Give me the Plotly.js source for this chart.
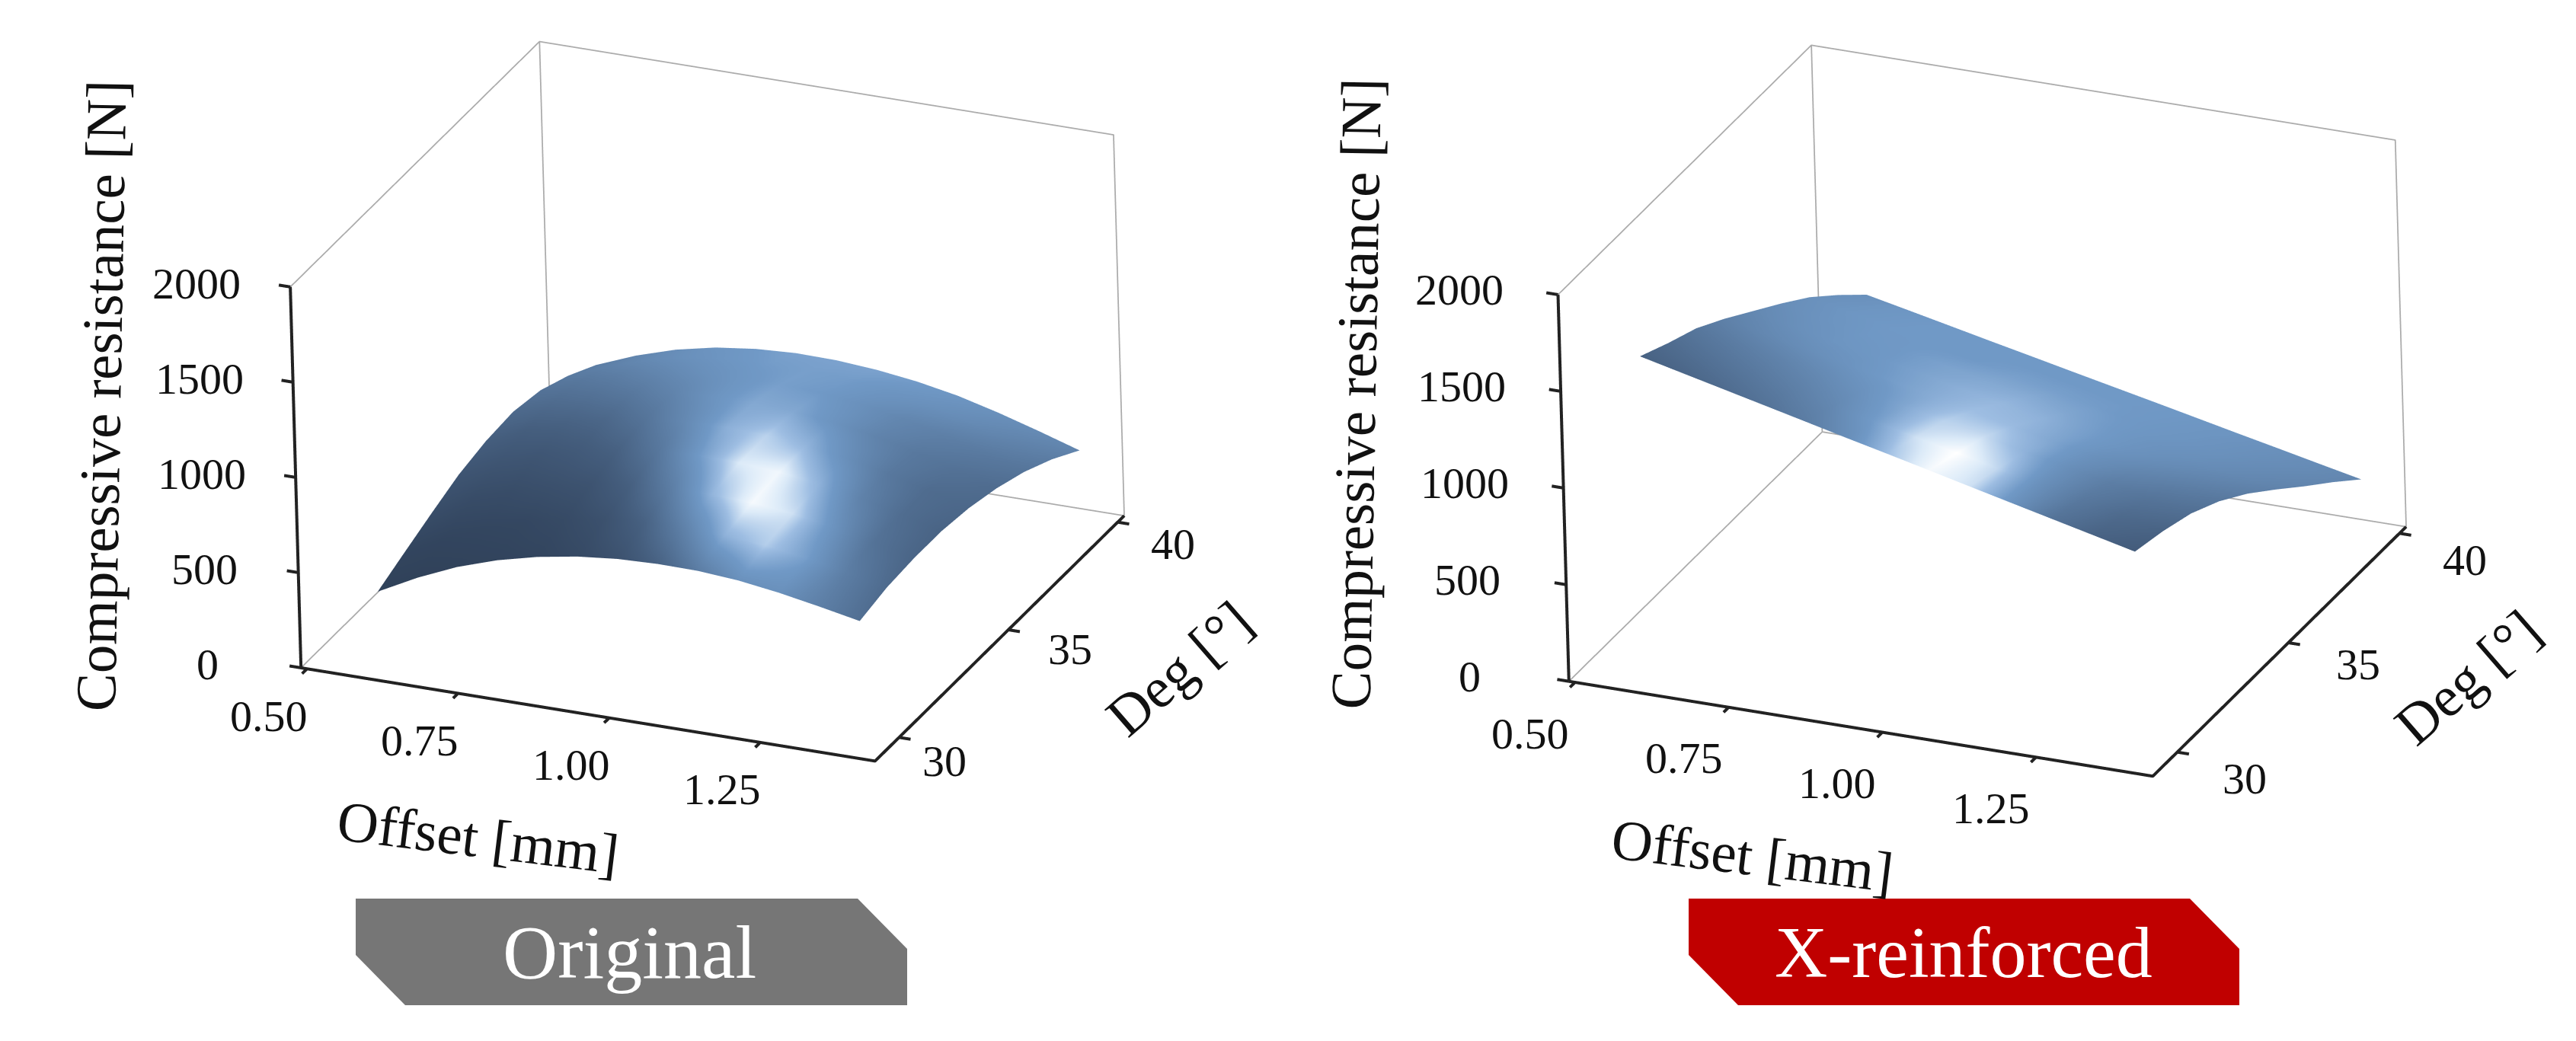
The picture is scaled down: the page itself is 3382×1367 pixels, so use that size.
<!DOCTYPE html>
<html>
<head>
<meta charset="utf-8">
<script src="https://cdn.plot.ly/plotly-3.0.1.min.js"></script>
<style>html,body{margin:0;padding:0;background:#fff}</style>
</head>
<body>
<div id="myDiv" style="width:3382px;height:1367px"></div>
<script>
// offset [mm] along x, deg along y
var offsetVals = [0.58, 0.647, 0.713, 0.78, 0.847, 0.913, 0.98, 1.047, 1.113, 1.18, 1.247, 1.313, 1.38];
var degVals = [30, 31.25, 32.5, 33.75, 35, 36.25, 37.5, 38.75, 40];

var originalZ = [
	[322, 430, 520, 590, 642, 678, 700, 708, 706, 690, 660, 622, 580],
	[388, 493, 581, 648, 698, 731, 750, 756, 751, 733, 700, 660, 615],
	[452, 553, 636, 700, 745, 774, 789, 790, 781, 759, 722, 677, 628],
	[512, 608, 686, 745, 785, 809, 819, 815, 801, 774, 732, 682, 628],
	[547, 639, 712, 766, 801, 821, 826, 818, 800, 767, 721, 666, 608],
	[560, 647, 717, 766, 797, 813, 814, 801, 779, 742, 691, 633, 570],
	[532, 617, 684, 731, 760, 773, 772, 758, 733, 694, 641, 580, 515],
	[467, 551, 618, 664, 692, 704, 702, 687, 661, 621, 567, 506, 440],
	[382, 466, 531, 577, 604, 616, 613, 597, 570, 530, 475, 413, 346]
];
var reinforcedZ = [
	[1603, 1553, 1504, 1454, 1404, 1354, 1305, 1255, 1205, 1155, 1105, 1056, 1006],
	[1530, 1483, 1437, 1390, 1343, 1297, 1250, 1203, 1157, 1110, 1063, 1017, 970],
	[1465, 1420, 1374, 1329, 1283, 1238, 1193, 1147, 1102, 1056, 1011, 965, 920],
	[1373, 1328, 1283, 1239, 1194, 1149, 1104, 1059, 1014, 970, 930, 886, 842],
	[1271, 1226, 1181, 1136, 1091, 1046, 1001, 956, 911, 866, 826, 783, 740],
	[1169, 1123, 1077, 1030, 984, 938, 892, 846, 800, 753, 707, 664, 620],
	[1060, 1013, 966, 919, 872, 825, 778, 730, 683, 636, 589, 542, 495],
	[930, 884, 837, 791, 745, 699, 653, 606, 560, 514, 468, 421, 375],
	[790, 745, 700, 654, 609, 564, 519, 474, 429, 383, 338, 293, 248]
];

// surface tone, 0 dark navy, 1 white
var originalTone = [
	[.05, .05, .06, .07, .08, .12, .19, .33, .52, .66, .66, .54, .42],
	[.08, .08, .09, .10, .13, .19, .33, .56, .80, .87, .74, .53, .39],
	[.15, .14, .15, .18, .21, .32, .53, .81, .98, .91, .68, .45, .35],
	[.22, .22, .23, .27, .33, .48, .72, .93, .97, .80, .56, .41, .34],
	[.30, .30, .33, .37, .46, .61, .79, .88, .81, .65, .49, .40, .37],
	[.38, .40, .44, .49, .57, .68, .77, .77, .68, .57, .49, .44, .40],
	[.45, .48, .53, .59, .65, .70, .74, .72, .66, .59, .54, .50, .46],
	[.50, .55, .61, .66, .70, .73, .74, .73, .69, .66, .62, .57, .52],
	[.52, .58, .64, .69, .72, .75, .75, .75, .73, .70, .66, .62, .58]
];
var reinforcedTone = [
	[.33, .36, .40, .45, .52, .64, .84, .98, .91, .68, .45, .34, .28],
	[.40, .44, .48, .53, .60, .73, .91, 1.0, .89, .66, .49, .39, .34],
	[.48, .52, .56, .61, .67, .76, .88, .90, .80, .65, .53, .46, .42],
	[.55, .60, .64, .68, .73, .78, .84, .83, .76, .66, .59, .53, .48],
	[.60, .65, .69, .71, .75, .79, .82, .80, .74, .68, .63, .58, .53],
	[.64, .68, .71, .72, .75, .77, .78, .76, .72, .68, .65, .61, .56],
	[.66, .70, .72, .72, .72, .74, .74, .73, .71, .69, .66, .62, .58],
	[.66, .70, .72, .72, .72, .72, .72, .72, .71, .69, .66, .63, .59],
	[.66, .70, .72, .72, .72, .72, .72, .72, .71, .69, .66, .63, .59]
];

var offsetTicks = [0.5, 0.75, 1.0, 1.25];
var degTicks = [30, 35, 40];
var forceTicks = [0, 500, 1000, 1500, 2000];
var offsetLabels = ['0.50', '0.75', '1.00', '1.25'];

// box that is drawn
var offsetBox = [0.49, 1.44];
var degBox = [28.9, 40.3];
var forceBox = [0, 2000];
// axis range is a bit wider so lines on the box are not clipped and ticks fit
var offsetRange = [0.4615, 1.4685];
var degRange = [28.558, 40.642];
var forceRange = [-60, 2060];

var fontName = 'Liberation Serif';
var viewDir = [0.3744, -0.8256, 0.4222];
var upDir = [-0.1487, 0.3959, 0.9061];
var toneScale = [[0, '#2c3c53'], [0.3, '#455e7e'], [0.72, '#7099c6'], [0.84, '#9dbde2'], [0.93, '#dbeaf8'], [1, '#ffffff']];

function frameTrace(scene){
	var x0 = offsetBox[0], x1 = offsetBox[1];
	var y0 = degBox[0], y1 = degBox[1];
	var z0 = forceBox[0], z1 = forceBox[1];
	return {
		type: 'scatter3d', mode: 'lines', scene: scene,
		x: [x0, x0, x1, x1, null, x0, x0, null, x0, x0, null, x0, x1],
		y: [y0, y1, y1, y1, null, y0, y1, null, y1, y1, null, y1, y1],
		z: [z1, z1, z1, z0, null, z0, z0, null, z0, z1, null, z0, z0],
		line: {color: '#ababab', width: 3.5},
		hoverinfo: 'skip', showlegend: false
	};
}

function axisTrace(scene){
	var x0 = offsetBox[0], x1 = offsetBox[1];
	var y0 = degBox[0], y1 = degBox[1];
	var z0 = forceBox[0], z1 = forceBox[1];
	var xs = [x0, x0, x1, x1], ys = [y0, y0, y0, y1], zs = [z1, z0, z0, z0];
	var dx = (x1 - x0) * 0.02, dy = (y1 - y0) * 0.02;
	function seg(a, b){
		xs.push(null, a[0], b[0]);
		ys.push(null, a[1], b[1]);
		zs.push(null, a[2], b[2]);
	}
	offsetTicks.forEach(function(v){ seg([v, y0, z0], [v, y0 - dy, z0]); });
	degTicks.forEach(function(v){ seg([x1, v, z0], [x1 + dx, v, z0]); });
	forceTicks.forEach(function(v){ seg([x0, y0, v], [x0 - dx, y0, v]); });
	return {
		type: 'scatter3d', mode: 'lines', scene: scene,
		x: xs, y: ys, z: zs,
		line: {color: '#222', width: 8},
		hoverinfo: 'skip', showlegend: false
	};
}

function surfaceTrace(z, tone, scene){
	return {
		type: 'surface', scene: scene,
		x: offsetVals, y: degVals, z: z,
		surfacecolor: tone, cmin: 0, cmax: 1,
		colorscale: toneScale,
		showscale: false,
		lighting: {ambient: 1, diffuse: 0, specular: 0, roughness: 1, fresnel: 0},
		hoverinfo: 'skip'
	};
}

function axisStyle(range){
	return {
		title: {text: ''},
		range: range,
		showticklabels: false,
		ticks: '',
		showline: false,
		showgrid: false, zeroline: false, showbackground: false, showspikes: false
	};
}

// tick labels and axis titles sit next to their data point, shifted in pixels
function sceneNotes(sh){
	var notes = [];
	var tickFont = {family: fontName, size: 58, color: '#111'};
	var titleFont = {family: fontName, size: 75, color: '#111'};
	function note(x, y, z, text, dx, dy, font, angle){
		notes.push({x: x, y: y, z: z, text: text, showarrow: false, xanchor: 'center', yanchor: 'middle',
			xshift: dx, yshift: dy, font: font, textangle: angle || 0});
	}
	offsetTicks.forEach(function(v, i){
		note(v, degBox[0], 0, offsetLabels[i], sh.x[0], sh.x[1], tickFont);
	});
	degTicks.forEach(function(v, i){
		note(offsetBox[1], v, 0, String(v), sh.y[i][0], sh.y[i][1], tickFont);
	});
	forceTicks.forEach(function(v){
		note(offsetBox[0], degBox[0], v, String(v), sh.z[0], sh.z[1], tickFont);
	});
	note((offsetBox[0] + offsetBox[1]) / 2, degBox[0], 0, 'Offset [mm]', sh.xt[0], sh.xt[1], titleFont, 7);
	note(offsetBox[1], (degBox[0] + degBox[1]) / 2, 0, 'Deg [°]', sh.yt[0], sh.yt[1], titleFont, -41);
	note(offsetBox[0], degBox[0], 1000, 'Compressive resistance [N]', sh.zt[0], sh.zt[1], titleFont, -89);
	return notes;
}

function sceneStyle(dom, center, aspect, sh){
	var dist = 2;
	return {
		domain: dom,
		aspectmode: 'manual',
		aspectratio: {x: aspect[0], y: aspect[1], z: aspect[2]},
		camera: {
			projection: {type: 'orthographic'},
			center: {x: center[0], y: center[1], z: center[2]},
			eye: {x: center[0] + dist * viewDir[0], y: center[1] + dist * viewDir[1], z: center[2] + dist * viewDir[2]},
			up: {x: upDir[0], y: upDir[1], z: upDir[2]}
		},
		xaxis: axisStyle(offsetRange),
		yaxis: axisStyle(degRange),
		zaxis: axisStyle(forceRange),
		annotations: sceneNotes(sh)
	};
}

function badgePath(x0, x1, y0, y1, cx, cy){
	var X = function(v){return v / 3382;};
	var Y = function(v){return 1 - v / 1367;};
	return 'M' + X(x0) + ',' + Y(y0) + ' L' + X(x1 - cx) + ',' + Y(y0) + ' L' + X(x1) + ',' + Y(y0 + cy) +
		' L' + X(x1) + ',' + Y(y1) + ' L' + X(x0 + cx) + ',' + Y(y1) + ' L' + X(x0) + ',' + Y(y1 - cy) + ' Z';
}

var data = [
	surfaceTrace(originalZ, originalTone, 'scene'),
	frameTrace('scene'), axisTrace('scene'),
	surfaceTrace(reinforcedZ, reinforcedTone, 'scene2'),
	frameTrace('scene2'), axisTrace('scene2')
];

var layout = {
	width: 3382, height: 1367,
	margin: {l: 0, r: 0, t: 0, b: 0},
	paper_bgcolor: '#fff',
	showlegend: false,
	scene: sceneStyle({x: [0, 0.5], y: [0, 1]}, [-0.0772, -0.1395, -0.2044], [1.277, 1.262, 0.856],
		{x: [-50, -62], y: [[60, -31], [81, -25], [73, -29]], z: [-123, 4], xt: [-145, -161], yt: [236, -39], zt: [-255, 107]}),
	scene2: sceneStyle({x: [0.5, 1], y: [0, 1]}, [-0.0567, -0.1222, -0.1887], [1.299, 1.283, 0.869],
		{x: [-59, -67], y: [[88, -35], [92, -29], [86, -35]], z: [-130, 6], xt: [-143, -167], yt: [247, -34], zt: [-272, 124]}),
	shapes: [
		{type: 'path', xref: 'paper', yref: 'paper', path: badgePath(467, 1191, 1180, 1320, 65, 66), fillcolor: '#767676', line: {width: 0}},
		{type: 'path', xref: 'paper', yref: 'paper', path: badgePath(2217, 2940, 1180, 1320, 65, 66), fillcolor: '#c00000', line: {width: 0}}
	],
	annotations: [
		{xref: 'paper', yref: 'paper', x: 826 / 3382, y: 1 - 1250 / 1367, xanchor: 'center', yanchor: 'middle', text: 'Original', showarrow: false, font: {family: fontName, size: 100, color: '#fff'}},
		{xref: 'paper', yref: 'paper', x: 2578 / 3382, y: 1 - 1250 / 1367, xanchor: 'center', yanchor: 'middle', text: 'X-reinforced', showarrow: false, font: {family: fontName, size: 96, color: '#fff'}}
	]
};

Plotly.newPlot('myDiv', data, layout, {displayModeBar: false});
</script>
</body>
</html>
